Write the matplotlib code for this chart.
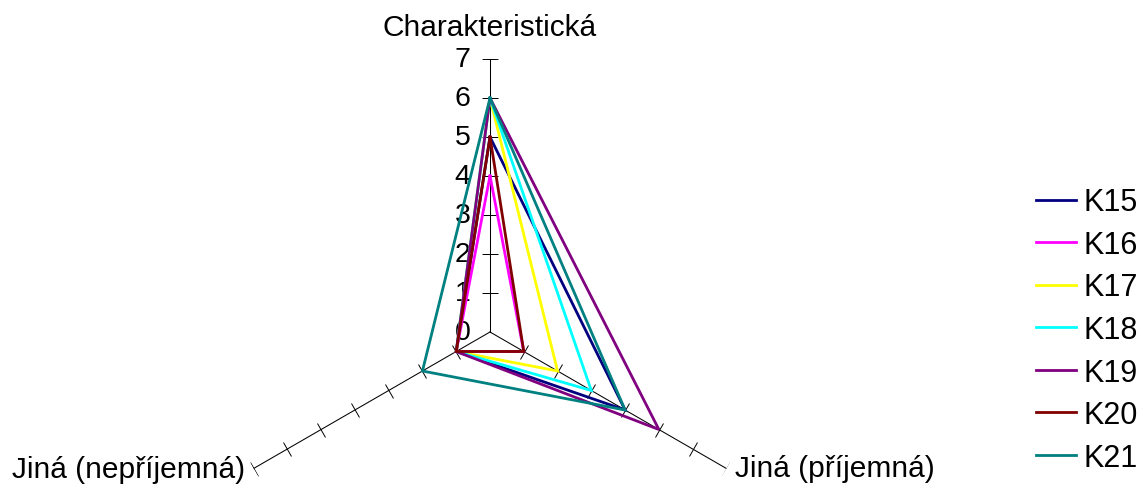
import numpy as np
import matplotlib
matplotlib.use("Agg")
import matplotlib.pyplot as plt
from matplotlib.markers import MarkerStyle
from matplotlib.transforms import Affine2D

plt.rcParams['font.family'] = ['Liberation Sans', 'DejaVu Sans']

categories = ["Charakteristická", "Jiná (příjemná)", "Jiná (nepříjemná)"]
series_names = ["K15", "K16", "K17", "K18", "K19", "K20", "K21"]
k15 = [5, 4, 1]
k16 = [4, 1, 1]
k17 = [6, 2, 1]
k18 = [6, 3, 1]
k19 = [6, 5, 1]
k20 = [5, 1, 1]
k21 = [6, 4, 2]
series_values = [k15, k16, k17, k18, k19, k20, k21]
colors = ["#000080", "#FF00FF", "#FFFF00", "#00FFFF", "#800080", "#800000", "#008080"]
r_ticks = [0, 1, 2, 3, 4, 5, 6, 7]
r_max = 7

W, H = 1140, 489
fig = plt.figure(figsize=(W / 100, H / 100), dpi=100)

# polar axes centred on the chart origin, radius 7 units
cx, cy, rad = 490, 333, 273
ax = fig.add_axes([(cx - rad) / W, (H - cy - rad) / H, 2 * rad / W, 2 * rad / H],
                  projection='polar')
ax.set_theta_offset(np.pi / 2)
ax.set_theta_direction(-1)
ax.set_ylim(0, r_max)
ax.grid(False)
ax.set_xticks([])
ax.set_yticks([])
ax.spines['polar'].set_visible(False)
ax.patch.set_alpha(0)

angles = np.arange(len(categories)) * 2 * np.pi / len(categories)

# spokes with perpendicular tick marks
tick_rot = [0, 60, -60]
for ang, rot in zip(angles, tick_rot):
    ax.plot([ang, ang], [0, r_max], color='black', lw=0.75, zorder=1)
    mk = MarkerStyle('_', transform=Affine2D().rotate_deg(rot))
    ax.plot([ang] * (len(r_ticks) - 1), r_ticks[1:], ls='none', marker=mk,
            markersize=11, markeredgewidth=0.7, color='black', zorder=1)

# value labels along the top spoke
for r in r_ticks:
    ax.annotate(str(r), xy=(0, r), xytext=(-14, 0), textcoords='offset points',
                ha='right', va='center', fontsize=20.5)

# category labels at the spoke ends
ax.annotate(categories[0], xy=(angles[0], r_max), xytext=(0, 23),
            textcoords='offset points', ha='center', va='center',
            fontsize=21.5, annotation_clip=False)
ax.annotate(categories[1], xy=(angles[1], r_max), xytext=(6, 0),
            textcoords='offset points', ha='left', va='center',
            fontsize=21.5, annotation_clip=False)
ax.annotate(categories[2], xy=(angles[2], r_max), xytext=(-6, 0),
            textcoords='offset points', ha='right', va='center',
            fontsize=21.5, annotation_clip=False)

closed_angles = np.append(angles, angles[0])
handles = []
for name, vals, col in zip(series_names, series_values, colors):
    v = list(vals) + [vals[0]]
    ln, = ax.plot(closed_angles, v, color=col, lw=2.0, label=name,
                  solid_joinstyle='miter', zorder=3, clip_on=False)
    handles.append(ln)

fig.legend(handles=handles, loc='center left', bbox_to_anchor=(1036 / W, 1 - 331 / H),
           frameon=False, fontsize=22, handlelength=1.31, handletextpad=0.23,
           labelspacing=0.41, borderpad=0, borderaxespad=0)

fig.savefig("out.png", dpi=100)
